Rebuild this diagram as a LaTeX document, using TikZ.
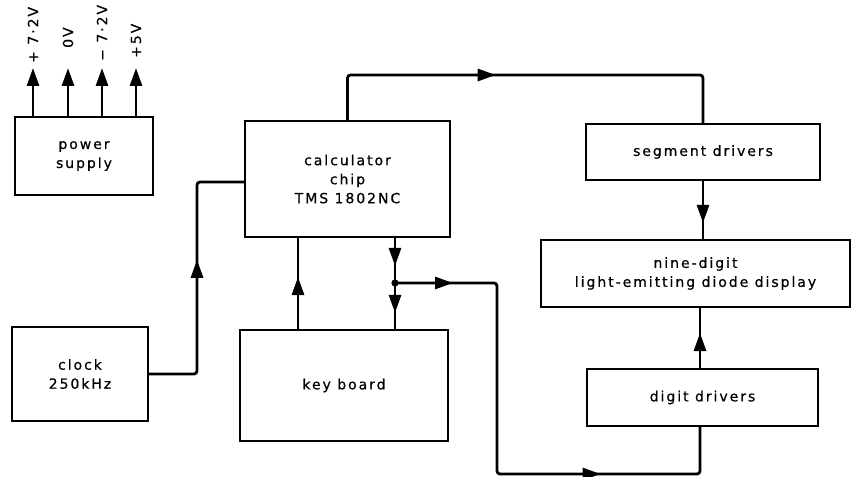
\documentclass[tikz,border=0pt]{standalone}
\usepackage{fontspec}
\setmainfont[LetterSpace=14,FakeBold=0.6]{DejaVu Sans}
\usetikzlibrary{arrows.meta,decorations.markings}

\begin{document}
\begin{tikzpicture}[
    x=1pt, y=-1pt,
    block/.style={rectangle, draw, line width=1.8pt, inner sep=0pt, align=center, font=\fontsize{14}{19}\selectfont},
    wire/.style={line width=2.8pt, rounded corners=3pt},
    vlabel/.style={rotate=90, anchor=west, inner sep=0pt, font=\fontsize{14}{15}\selectfont},
    midtip/.style={postaction={decorate, decoration={markings, mark=at position #1 with {\arrow{Triangle[length=18pt,width=12pt]}}}}},
    endtip/.style={-{Triangle[length=18pt,width=12pt]}}
]
\useasboundingbox (0,0) rectangle (858,476);

% --- Blocks ---
\node[block, minimum width=138pt, minimum height=78pt] (psu) at (84,156) {power\\supply};
\node[block, minimum width=205pt, minimum height=116pt] (chip) at (347.5,179) {calculator\\chip\\TMS 1802NC};
\node[block, minimum width=234pt, minimum height=56pt] (seg) at (703,152) {segment drivers};
\node[block, minimum width=309pt, minimum height=67pt] (disp) at (695.5,273.5) {nine-digit\\light-emitting diode display};
\node[block, minimum width=231pt, minimum height=57pt] (digit) at (702.5,397.5) {digit drivers};
\node[block, minimum width=208pt, minimum height=111pt] (key) at (344,385.5) {key board};
\node[block, minimum width=136pt, minimum height=94pt] (clock) at (80,374) {clock\\250kHz};

% --- Supply rails ---
\coordinate (v1) at (33,68);
\coordinate (v2) at (68,68);
\coordinate (v3) at (102,68);
\coordinate (v4) at (136,68);
\node[vlabel] (l1) at (33,63) {+ 7·2V};
\node[vlabel] (l2) at (68,48) {0V};
\node[vlabel] (l3) at (102,61) {− 7·2V};
\node[vlabel] (l4) at (136,58) {+5V};
\draw[wire, endtip] (psu.north -| v1) -- (v1);
\draw[wire, endtip] (psu.north -| v2) -- (v2);
\draw[wire, endtip] (psu.north -| v3) -- (v3);
\draw[wire, endtip] (psu.north -| v4) -- (v4);

% --- Clock to chip ---
\coordinate (clkup) at (197,182);
\draw[wire, midtip=161pt] (clock.east) -| (clkup) -- (clkup -| chip.west);

% --- Chip to segment drivers ---
\coordinate (toprt) at (703,75);
\draw[wire, midtip=192pt] (chip.north) |- (toprt) -- (toprt |- seg.north);

% --- Drivers to display ---
\draw[wire, midtip=42pt] (seg.south) -- (seg.south |- disp.north);
\coordinate (dup) at (700,369);
\draw[wire, midtip=36pt] (dup) -- (dup |- disp.south);

% --- Key board and chip ---
\coordinate (kup) at (298,330);
\draw[wire, midtip=53pt] (kup) -- (kup |- chip.south);
\coordinate (jn) at (395,283);
\draw[wire, midtip=28pt, midtip=75pt] (jn |- chip.south) -- (jn |- key.north);
\fill (jn) circle (3.6pt);

% --- Junction to digit drivers ---
\coordinate (jr) at (497,283);
\coordinate (jb) at (497,474);
\draw[wire, midtip=58pt, midtip=394pt] (jn) -- (jr) -- (jb) -| (dup |- digit.south);

\end{tikzpicture}
\end{document}
